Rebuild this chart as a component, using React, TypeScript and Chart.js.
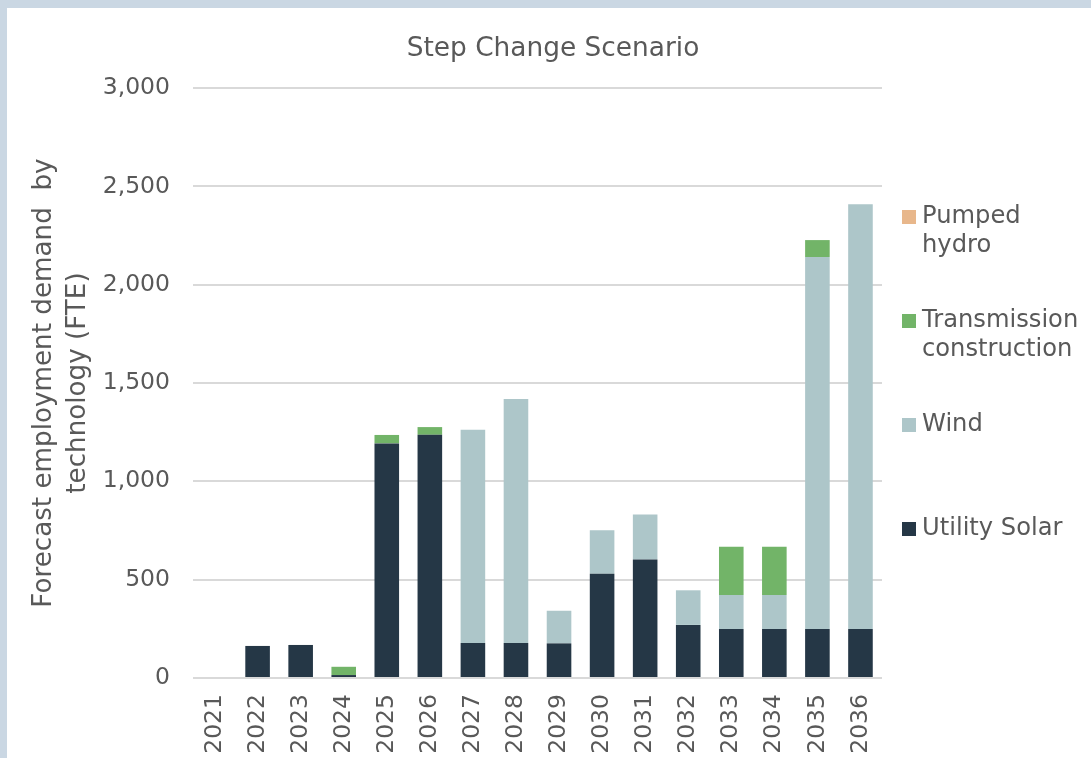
import React, { useEffect, useRef } from "react";
import { Chart, registerables } from "chart.js";

Chart.register(...registerables);

const categories = ["2021","2022","2023","2024","2025","2026","2027","2028","2029","2030","2031","2032","2033","2034","2035","2036"];
const utilitySolar = [0, 163, 168, 15, 1193, 1237, 178, 178, 176, 530, 603, 270, 249, 249, 249, 249];
const wind = [0, 0, 0, 0, 0, 0, 1085, 1241, 166, 221, 229, 176, 173, 173, 1892, 2160];
const transmission = [0, 0, 0, 42, 43, 39, 0, 0, 0, 0, 0, 0, 246, 246, 86, 0];
const pumpedHydro = [0, 0, 0, 0, 0, 0, 0, 0, 0, 0, 0, 0, 0, 0, 0, 0];
const yTicks = [0, 500, 1000, 1500, 2000, 2500, 3000];

const TEXT = "#595959";
const FONT = "'DejaVu Sans', Verdana, sans-serif";

const COLORS = {
  solar: "#253746",
  wind: "#adc6c9",
  transmission: "#72b468",
  pumped: "#e8b78b",
};

const legendItems = [
  { lines: ["Pumped", "hydro"], color: COLORS.pumped },
  { lines: ["Transmission", "construction"], color: COLORS.transmission },
  { lines: ["Wind"], color: COLORS.wind },
  { lines: ["Utility Solar"], color: COLORS.solar },
];

const legendPlugin = {
  id: "sideLegend",
  afterDraw(chart: any) {
    const ctx = chart.ctx;
    const area = chart.chartArea;
    ctx.save();
    ctx.font = `24.2px ${FONT}`;
    ctx.textBaseline = "middle";
    ctx.textAlign = "left";
    const x0 = area.right + 20;
    let y = 209;
    legendItems.forEach((item) => {
      ctx.fillStyle = item.color;
      ctx.fillRect(x0, y - 7, 14, 14);
      ctx.fillStyle = TEXT;
      item.lines.forEach((ln, i) => {
        ctx.fillText(ln, x0 + 20, y + i * 29);
      });
      y += 104;
    });
    ctx.restore();
  },
};

export default function App() {
  const ref = useRef<HTMLCanvasElement | null>(null);
  useEffect(() => {
    if (!ref.current) return;
    const chart = new Chart(ref.current, {
      type: "bar",
      data: {
        labels: categories,
        datasets: [
          { label: "Utility Solar", data: utilitySolar, backgroundColor: COLORS.solar },
          { label: "Wind", data: wind, backgroundColor: COLORS.wind },
          { label: "Transmission construction", data: transmission, backgroundColor: COLORS.transmission },
          { label: "Pumped hydro", data: pumpedHydro, backgroundColor: COLORS.pumped },
        ],
      },
      options: {
        responsive: false,
        animation: false,
        layout: { padding: { left: 8, right: 0, top: 0, bottom: 0 } },
        datasets: { bar: { categoryPercentage: 1, barPercentage: 0.571, borderWidth: 0 } },
        plugins: {
          legend: { display: false },
          tooltip: { enabled: false },
          title: {
            display: true,
            text: "Step Change Scenario",
            color: TEXT,
            font: { family: FONT, size: 26.4, weight: "normal", lineHeight: 1.2 },
            padding: { top: 25.2, bottom: 23.2 },
          },
        },
        scales: {
          x: {
            stacked: true,
            grid: { display: false, drawTicks: false },
            border: { display: false },
            ticks: {
              color: TEXT,
              font: { family: FONT, size: 23.5 },
              minRotation: 90,
              maxRotation: 90,
              padding: 16,
              autoSkip: false,
            },
            afterFit: (s: any) => { s.height = 80; },
          },
          y: {
            stacked: true,
            min: 0,
            max: 3000,
            afterBuildTicks: (s: any) => { s.ticks = yTicks.map((v) => ({ value: v })); },
            grid: { color: "#d9d9d9", lineWidth: 2, drawTicks: false },
            border: { display: false },
            ticks: {
              color: TEXT,
              font: { family: FONT, size: 23.5 },
              padding: 23,
              callback: (v: any) => Number(v).toLocaleString("en-US"),
            },
            title: {
              display: true,
              text: ["Forecast employment demand  by", "technology (FTE)"],
              color: TEXT,
              font: { family: FONT, size: 26.2, lineHeight: 1.3 },
              padding: { top: 12.5, bottom: 0 },
            },
            afterFit: (s: any) => { s.width = 178; },
          },
          spacer: {
            type: "linear",
            position: "right",
            display: true,
            grid: { display: false, drawTicks: false },
            border: { display: false },
            ticks: { display: false },
            afterFit: (s: any) => { s.width = 209; },
          },
        },
      },
      plugins: [legendPlugin],
    } as any);
    return () => chart.destroy();
  }, []);

  return (
    <div style={{ position: "absolute", left: 0, top: 0, width: 1091, height: 758, background: "#cad7e3", overflow: "hidden" }}>
      <div style={{ position: "absolute", left: 7, top: 8, width: 1084, height: 750, background: "#ffffff" }}>
        <canvas ref={ref} width={1084} height={750} style={{ display: "block", width: 1084, height: 750 }} />
      </div>
    </div>
  );
}
